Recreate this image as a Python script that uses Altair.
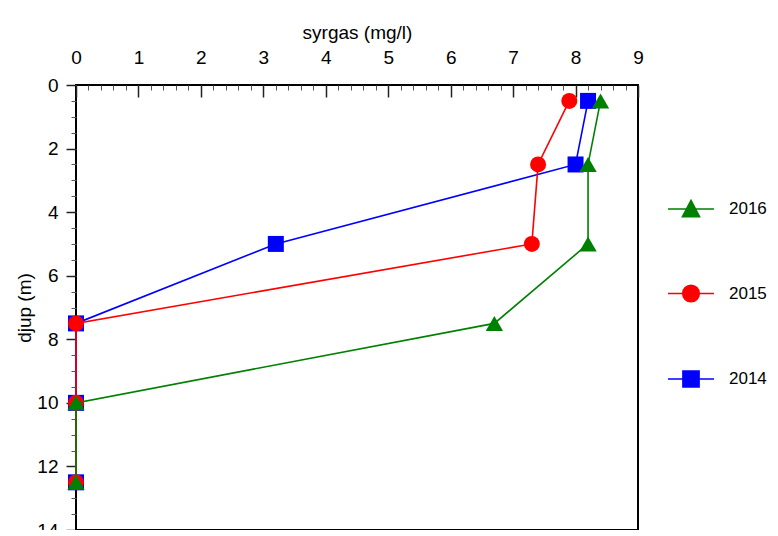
import altair as alt
import pandas as pd

depth = [0.5, 2.5, 5, 7.5, 10, 12.5]
o2_2016 = [8.4, 8.2, 8.2, 6.7, 0, 0]
o2_2015 = [7.9, 7.4, 7.3, 0, 0, 0]
o2_2014 = [8.2, 8.0, 3.2, 0, 0, 0]

years = ["2016", "2015", "2014"]
colors = ["#008000", "#ff0000", "#0000ff"]
shapes = {"2016": "triangle-up", "2015": "circle", "2014": "square"}

x_major = list(range(0, 10))
x_minor = [round(i * 0.2, 1) for i in range(46)]
y_major = list(range(0, 15, 2))
y_minor = [i * 0.5 for i in range(29)]

FONT = "Liberation Sans"
FS = 19

series = {"2016": o2_2016, "2015": o2_2015, "2014": o2_2014}
frames = {y: pd.DataFrame({"syrgas": v, "djup": depth, "year": y}) for y, v in series.items()}

xs = alt.Scale(domain=[0, 9], nice=False, zero=False)
ys = alt.Scale(domain=[0, 14], reverse=True, nice=False, zero=False)
cs = alt.Scale(domain=years, range=colors)

ax_major = alt.Axis(orient="top", values=x_major, tickSize=12, offset=-12, domain=False,
                    grid=False, labelPadding=18, title="syrgas (mg/l)", titlePadding=6,
                    format="d", labelFlush=False)
ax_minor = alt.Axis(orient="top", values=x_minor, tickSize=5, offset=-5, domain=False,
                    grid=False, labels=False, title=None, tickColor="#555", tickWidth=1)
ay_major = alt.Axis(orient="left", values=y_major, tickSize=10, domain=False, grid=False,
                    labelPadding=8, title="djup (m)", titlePadding=2, format="d",
                    labelFlush=False)
ay_minor = alt.Axis(orient="left", values=y_minor, tickSize=5, domain=False, grid=False,
                    labels=False, title=None, tickColor="#555", tickWidth=1)

# legend glyphs: a line with the marker in the middle
tri = "M-1,0H1M0,-0.37L0.37,0.33L-0.37,0.33Z"
cir = "M-1,0H1M-0.36,0A0.36,0.36 0 1,0 0.36,0A0.36,0.36 0 1,0 -0.36,0Z"
sq = "M-1,0H1M-0.35,-0.35H0.35V0.35H-0.35Z"

legend = alt.Legend(
    title=None, orient="none", legendX=591, legendY=100,
    symbolSize=2116, rowPadding=49.5, labelOffset=14, symbolStrokeWidth=1.6,
    labelFontSize=17, labelFont=FONT, labelColor="black",
)

leg_df = pd.DataFrame({"year": years})
leg = alt.Chart(leg_df).mark_point(filled=True, opacity=1).encode(
    color=alt.Color("year:N", scale=cs, legend=legend),
    stroke=alt.Stroke("year:N", scale=alt.Scale(domain=years, range=colors), legend=legend),
    shape=alt.Shape("year:N", scale=alt.Scale(domain=years, range=[tri, cir, sq]), legend=legend),
).transform_filter("false")

layers = [leg]
order = ["2014", "2015", "2016"]
for i, yr in enumerate(order):
    df = frames[yr]
    line = alt.Chart(df).mark_line(strokeWidth=1.6).encode(
        x=alt.X("syrgas:Q", scale=xs, axis=ax_minor if i == 0 else None),
        y=alt.Y("djup:Q", scale=ys, axis=ay_minor if i == 0 else None),
        color=alt.Color("year:N", scale=cs, legend=None),
        order=alt.Order("djup:Q"),
    )
    pts = alt.Chart(df).mark_point(filled=True, shape=shapes[yr], size=256 if yr != "2016" else 300,
                                   opacity=1).encode(
        x=alt.X("syrgas:Q", scale=xs, axis=ax_major if i == 0 else None),
        y=alt.Y("djup:Q", scale=ys, axis=ay_major if i == 0 else None),
        color=alt.Color("year:N", scale=cs, legend=None),
    )
    layers += [line, pts]

chart = alt.layer(*layers).resolve_axis(x="independent", y="independent").properties(
    width=562, height=445,
    autosize=alt.AutoSizeParams(type="none"),
    padding={"left": 68, "top": 77, "right": 132, "bottom": 0},
).configure(background="white").configure_view(stroke="black", strokeWidth=2).configure_axis(
    labelFont=FONT, titleFont=FONT, labelFontSize=FS, titleFontSize=FS,
    labelColor="black", titleColor="black", tickColor="#222", tickWidth=1.5,
    titleFontWeight="normal",
)

chart.save("out.html", embed_options={"renderer": "svg", "actions": False})
